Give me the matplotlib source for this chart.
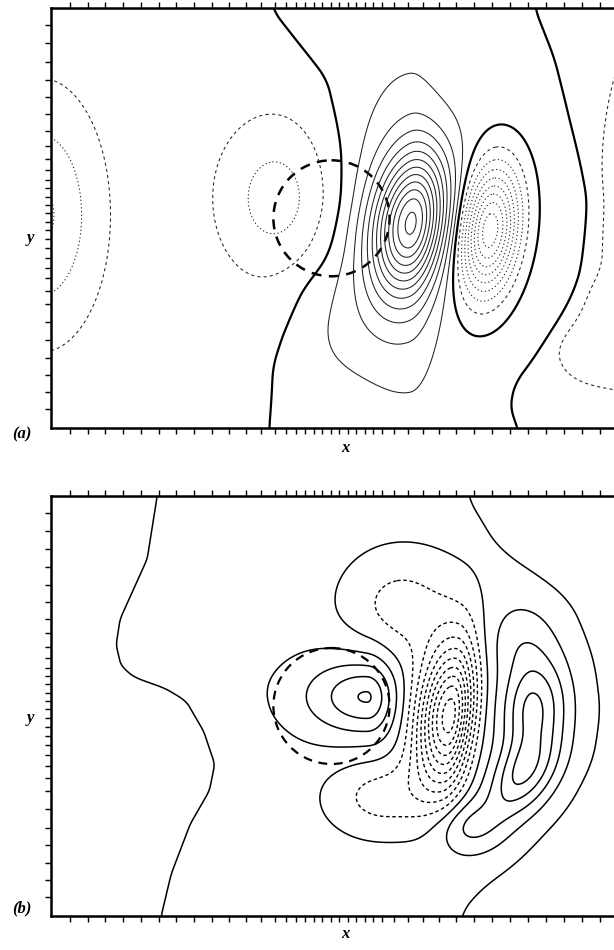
import numpy as np
import matplotlib.pyplot as plt
from matplotlib.patches import Circle

# ---------------- grid (stretched mesh ticks, px from frame) ---------------- #
x_grid = [19, 37, 54, 72, 90, 108, 125, 143, 161, 178, 195, 210, 223.5, 235, 245, 254,
          262.5, 271, 279.5, 287.5, 296, 304.5, 313, 321, 330, 342.5, 356, 371, 387.5,
          404.5, 422, 440, 458, 476, 494, 512.3, 530.3, 548.5]
y_grid = [16.7, 35, 53.4, 71.3, 88.8, 106, 122.5, 137.4, 150.5, 162, 171.7, 180, 188.4,
          196.7, 205, 213.4, 221.7, 230.8, 240, 249.2, 259.2, 270, 282.2, 295.3, 313.4,
          331.7, 349.2, 366.7, 383.9, 400.9]

# vortex outline (thick dashed circle)
vortex_xy = (280, 210)
vortex_r = 58

# ---------------- panel (a) ---------------- #
a_zl_y = [0, 72, 142, 192, 245, 275, 308, 358, 420]
a_zl_x = [220, 274, 286, 288, 271, 247, 243, 224, 218]
a_zr_y = [0, 50, 112, 192, 258, 325, 375, 402, 420]
a_zr_x = [483, 503, 520, 544, 548, 503, 463, 458, 467]
a_bg = 0.5
a_x0 = [360, 358, 292, 438, 224, -10, 598, 570, 532]
a_y0 = [214, 225, 318, 222, 190, 207, 168, 300, 345]
a_sxl = [26, 35, 35, 19, 38, 38, 38, 35, 22]
a_sxr = [24, 20, 35, 20, 38, 38, 38, 35, 22]
a_sy = [48, 90, 42, 44, 52, 75, 118, 60, 20]
a_amp = [9.6, 2.2, 0.55, -9.2, -1.94, -2.65, -1.1, -0.8, -0.7]
a_tilt = [0.15, 0.0, 0.0, 0.1, 0.0, 0.0, 0.0, 0.0, 0.0]

# ---------------- panel (b) ---------------- #
b_zl_y = [0, 63, 123, 149, 170, 183, 190, 205, 235, 268, 295, 328, 378, 420]
b_zl_x = [106, 96, 69, 65, 70, 85, 110, 136, 154, 164, 158, 139, 120, 110]
b_zr_y = [0, 53, 107, 163, 213, 263, 313, 363, 397, 420]
b_zr_x = [416, 452, 510, 532, 540, 532, 505, 462, 425, 408]
b_bg = 0.5
b_x0 = [316, 316, 398, 350, 330, 480, 470, 470, 415]
b_y0 = [200, 200, 220, 112, 300, 210, 278, 145, 330]
b_sxl = [55, 25, 22, 42, 38, 20, 20, 24, 25]
b_sxr = [20, 14, 16, 42, 38, 24, 24, 26, 25]
b_sy = [33, 17, 50, 40, 28, 32, 30, 28, 20]
b_amp = [2.72, 0.99, -10.0, -1.9, -1.9, 3.6, 3.6, 1.2, 1.8]
b_tilt = [0, 0, 0.1, 0, 0, 0.1, 0.35, 0, 0]


def blob(X, Y, x0, y0, sxl, sxr, sy, amp, tilt):
    u = (X - x0) + tilt * (Y - y0)
    v = Y - y0
    sx = np.where(u < 0, sxl, sxr)
    return amp * np.exp(-0.5 * (u / sx) ** 2 - 0.5 * (v / sy) ** 2)


def smooth_line(ys, zy, zx, win):
    c = np.interp(ys, zy, zx)
    c = np.convolve(np.pad(c, win // 2, mode='edge'), np.ones(win) / win, mode='valid')
    return c[:, None]


def field(X, Y, zl, zr, bg, blobs, wins, widths):
    c1 = smooth_line(Y[:, 0], *zl, wins[0])
    c2 = smooth_line(Y[:, 0], *zr, wins[1])
    F = bg * np.tanh((X - c1) / widths[0]) * np.tanh((c2 - X) / widths[1])
    for p in zip(*blobs):
        F = F + blob(X, Y, *p)
    return F


xs = np.arange(0, 570, 1.0)
ys = np.arange(0, 421, 1.0)
X, Y = np.meshgrid(xs, ys)

Fa = field(X, Y, (a_zl_y, a_zl_x), (a_zr_y, a_zr_x), a_bg,
           (a_x0, a_y0, a_sxl, a_sxr, a_sy, a_amp, a_tilt), (25, 25), (31, 10))
Fb = field(X, Y, (b_zl_y, b_zl_x), (b_zr_y, b_zr_x), b_bg,
           (b_x0, b_y0, b_sxl, b_sxr, b_sy, b_amp, b_tilt), (11, 31), (45, 45))

W, H = 614, 950
fig = plt.figure(figsize=(W / 100, H / 100), dpi=100)
plt.rcParams['font.family'] = ['Liberation Serif', 'DejaVu Serif']

pos_lv = np.arange(1, 14)
neg_lv = np.arange(-13, 0)


def setup(ax):
    ax.set_xlim(0, 569)
    ax.set_ylim(420, 0)
    ax.set_xticks(x_grid)
    ax.set_yticks(y_grid)
    ax.set_xticklabels([])
    ax.set_yticklabels([])
    ax.tick_params(direction='out', length=4.5, width=1.0, top=True, bottom=True,
                   left=True, right=False)
    for sp in ax.spines.values():
        sp.set_linewidth(1.8)
    ax.spines['right'].set_visible(False)


top_a, top_b, hgt = 8.3, 496, 420

# (a)
axa = fig.add_axes([51 / W, 1 - (top_a + hgt) / H, 570 / W, hgt / H])
setup(axa)
axa.contour(X, Y, Fa, levels=pos_lv, colors='#222222', linewidths=0.75)
neg_styles_a = [(0, (1.2, 2.4))] * (len(neg_lv) - 1) + [(0, (3, 3))]
axa.contour(X, Y, Fa, levels=neg_lv, colors='#222222', linewidths=0.75,
            linestyles=neg_styles_a)
axa.contour(X, Y, Fa, levels=[0], colors='k', linewidths=1.6)
axa.add_patch(Circle(vortex_xy, vortex_r, fill=False, ec='k', lw=1.8, ls=(0, (4, 3))))

# (b)
axb = fig.add_axes([51 / W, 1 - (top_b + hgt) / H, 570 / W, hgt / H])
setup(axb)
axb.contour(X, Y, Fb, levels=pos_lv, colors='k', linewidths=1.1)
axb.contour(X, Y, Fb, levels=neg_lv, colors='k', linewidths=1.0, linestyles=[(0, (2.5, 2))])
axb.contour(X, Y, Fb, levels=[0], colors='k', linewidths=1.1)
axb.add_patch(Circle(vortex_xy, vortex_r, fill=False, ec='k', lw=1.6, ls=(0, (4, 3))))

lab = dict(fontsize=12, style='italic', fontweight='bold', ha='center', va='center')
fig.text(22 / W, 1 - 434 / H, '(a)', **lab)
fig.text(30 / W, 1 - 238 / H, 'y', **lab)
fig.text(345 / W, 1 - 448 / H, 'x', **lab)
fig.text(22 / W, 1 - 908 / H, '(b)', **lab)
fig.text(30 / W, 1 - 718 / H, 'y', **lab)
fig.text(345 / W, 1 - 934 / H, 'x', **lab)

fig.savefig('out.png', dpi=100)
